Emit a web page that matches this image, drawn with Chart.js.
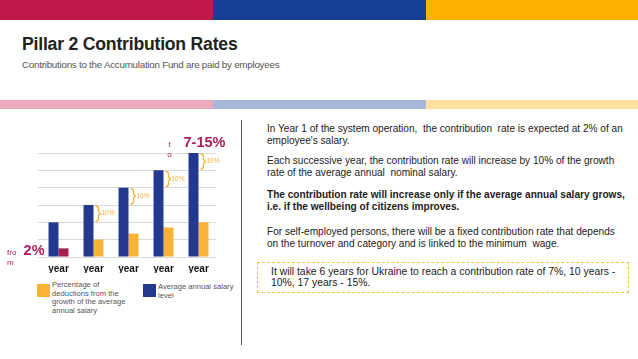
<!DOCTYPE html>
<html>
<head>
<meta charset="utf-8">
<script src="https://cdn.jsdelivr.net/npm/chart.js@4"></script>
<style>
  body { margin: 0; width: 638px; height: 359px; background: #fff; position: relative; overflow: hidden; font-family: "Liberation Sans", Arial, sans-serif; color: #222; }
  .band { position: absolute; }
  #title { position: absolute; left: 22px; top: 34px; font-size: 17.6px; font-weight: bold; color: #222; letter-spacing: -0.2px; }
  #sub { position: absolute; left: 22px; top: 59px; font-size: 9.8px; color: #555; letter-spacing: -0.25px; }
  #divider { position: absolute; left: 241px; top: 120px; width: 1px; height: 225px; background: #555; }
  #chartBox { position: absolute; left: 0; top: 120px; }
  .sw { position: absolute; width: 13px; height: 13px; }
  .lg { position: absolute; font-size: 7.6px; line-height: 8.7px; color: #555; }
  #notes { position: absolute; left: 267px; top: 123px; font-size: 10.1px; line-height: 11.5px; color: #222; }
  #notes p { margin: 0 0 9px 0; }
  #callout { position: absolute; left: 257px; top: 262px; width: 372px; height: 31px; border: 1px dashed #F5C242; box-sizing: border-box; }
  #callout div { position: absolute; left: 13px; top: 3px; font-size: 10.4px; line-height: 11px; color: #222; }
</style>
</head>
<body>
<div class="band" style="left:0;top:0;width:213px;height:20px;background:#BE1B4B"></div>
<div class="band" style="left:213px;top:0;width:213px;height:20px;background:#173E95"></div>
<div class="band" style="left:426px;top:0;width:212px;height:20px;background:#FFB000"></div>
<div class="band" style="left:0;top:100px;width:213px;height:9px;background:#ECA9BB"></div>
<div class="band" style="left:213px;top:100px;width:213px;height:9px;background:#A7B7D7"></div>
<div class="band" style="left:426px;top:100px;width:212px;height:9px;background:#FFDFA0"></div>

<div id="title">Pillar 2 Contribution Rates</div>
<div id="sub">Contributions to the Accumulation Fund are paid by employees</div>

<div id="chartBox"><canvas id="c" width="240" height="160"></canvas></div>
<div id="divider"></div>

<div class="sw" style="left:37px;top:284px;background:#F9B233"></div>
<div class="lg" style="left:52px;top:281px">Percentage of<br>deductions from the<br>growth of the average<br>annual salary</div>
<div class="sw" style="left:143px;top:284px;background:#22398F"></div>
<div class="lg" style="left:158px;top:283px">Average annual salary<br>level</div>

<div id="notes">
  <p>In Year 1 of the system operation,&nbsp; the contribution&nbsp; rate is expected at 2% of an<br>employee's salary.</p>
  <p>Each successive year, the contribution rate will increase by 10% of the growth<br>rate of the average annual&nbsp; nominal salary.</p>
  <p style="font-weight:bold;margin-top:11px">The contribution rate will increase only if the average annual salary grows,<br>i.e. if the wellbeing of citizens improves.</p>
  <p style="margin-top:14px">For self-employed persons, there will be a fixed contribution rate that depends<br>on the turnover and category and is linked to the minimum&nbsp; wage.</p>
</div>

<div id="callout"><div>It will take 6 years for Ukraine to reach a contribution rate of 7%, 10 years -<br>10%, 17 years - 15%.</div></div>

<script>
const years = ['year', 'year', 'year', 'year', 'year'];
const salaryLevel = [2, 3, 4, 5, 6];
const deductionShare = [0.5, 1, 1.35, 1.7, 2];
const stepLabel = '10%';
const startLabel = '2%';
const endLabel = '7-15%';

const BLUE = '#22398F';
const ORANGE = '#F9B233';
const CRIMSON = '#A9225A';

const notesPlugin = {
  id: 'notes',
  afterDatasetsDraw(chart) {
    const { ctx, chartArea, scales: { y } } = chart;
    const blue = chart.getDatasetMeta(0).data;
    ctx.save();

    // brackets between consecutive salary levels
    ctx.strokeStyle = ORANGE;
    ctx.fillStyle = ORANGE;
    ctx.lineWidth = 1.3;
    ctx.font = '6.5px "Liberation Sans", Arial, sans-serif';
    ctx.textBaseline = 'middle';
    for (let i = 1; i < blue.length; i++) {
      const right = blue[i].x + blue[i].width / 2;
      const yTop = y.getPixelForValue(salaryLevel[i]) + 1;
      const yBot = y.getPixelForValue(salaryLevel[i - 1]) - 1;
      const mid = (yTop + yBot) / 2;
      const bx = right + 5;
      ctx.beginPath();
      ctx.moveTo(right + 2, yTop);
      ctx.quadraticCurveTo(bx, yTop, bx, yTop + 3);
      ctx.lineTo(bx, mid - 2);
      ctx.lineTo(bx + 2, mid);
      ctx.lineTo(bx, mid + 2);
      ctx.lineTo(bx, yBot - 3);
      ctx.quadraticCurveTo(bx, yBot, right + 2, yBot);
      ctx.stroke();
      ctx.textAlign = 'left';
      ctx.fillText(stepLabel, bx + 3, mid);
    }

    // start / end rate labels
    ctx.fillStyle = CRIMSON;
    const first = blue[0];
    const last = blue[blue.length - 1];
    ctx.font = 'bold 14.5px "Liberation Sans", Arial, sans-serif';
    ctx.textAlign = 'right';
    ctx.fillText(startLabel, first.x - first.width / 2 - 4, y.getPixelForValue(deductionShare[0]) + 3);
    ctx.textAlign = 'center';
    ctx.fillText(endLabel, last.x + 11, chartArea.top - 10);

    ctx.font = '8px "Liberation Sans", Arial, sans-serif';
    ctx.textAlign = 'left';
    ctx.fillText('fro', chartArea.left - 34, y.getPixelForValue(0) - 4);
    ctx.fillText('m', chartArea.left - 34, y.getPixelForValue(0) + 6);
    ctx.textAlign = 'center';
    ctx.fillText('t', last.x - 24, chartArea.top - 8);
    ctx.fillText('o', last.x - 24, chartArea.top + 2);
    ctx.restore();
  }
};

new Chart(document.getElementById('c'), {
  type: 'bar',
  data: {
    labels: years,
    datasets: [{
      label: 'Average annual salary level',
      data: salaryLevel,
      backgroundColor: BLUE
    }, {
      label: 'Percentage of deductions from the growth of the average annual salary',
      data: deductionShare,
      backgroundColor: deductionShare.map((v, i) => i === 0 ? '#A81E4E' : ORANGE)
    }]
  },
  options: {
    responsive: false,
    animation: false,
    layout: { padding: { left: 38, right: 24, top: 33, bottom: 7 } },
    datasets: { bar: { categoryPercentage: 0.57, barPercentage: 1 } },
    scales: {
      x: {
        grid: { display: false, drawTicks: false },
        border: { display: false },
        ticks: { color: '#111', padding: 6, font: { family: '"Liberation Sans", Arial, sans-serif', size: 10, weight: 'bold' } },
        afterFit: s => { s.height = 16; }
      },
      y: {
        min: 0,
        max: 6,
        ticks: { stepSize: 1, display: false },
        grid: { color: '#dadada', drawTicks: true, tickLength: 3 },
        border: { display: false },
        afterFit: s => { s.width = 3; }
      }
    },
    plugins: { legend: { display: false }, tooltip: { enabled: false } }
  },
  plugins: [notesPlugin]
});
</script>
</body>
</html>
